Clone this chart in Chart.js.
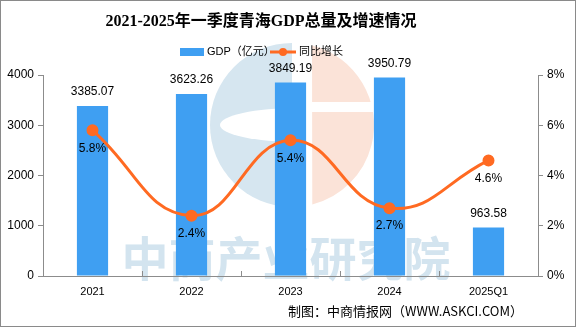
<!DOCTYPE html>
<html lang="zh">
<head>
<meta charset="UTF-8">
<title>2021-2025年一季度青海GDP总量及增速情况</title>
<script src="https://cdn.jsdelivr.net/npm/chart.js"></script>
<style>
  body { margin: 0; background: #fff; }
  .box { width: 576px; height: 327px; box-sizing: border-box; border: 1px solid #8a8a8a; background: #fff; }
  canvas { display: block; }
</style>
</head>
<body>
<div class="box"><canvas id="gdpChart" width="574" height="325"></canvas></div>
<script>
  const years = ['2021', '2022', '2023', '2024', '2025Q1'];
  const gdp = [3385.07, 3623.26, 3849.19, 3950.79, 963.58];
  const growth = [5.8, 2.4, 5.4, 2.7, 4.6];

  const titleText = '2021-2025年一季度青海GDP总量及增速情况';
  const sourceText = '制图：中商情报网（WWW.ASKCI.COM）';
  const watermarkText = '中商产业研究院';

  const BLUE = '#3f9ff2';
  const ORANGE = '#ff6a22';
  const AXIS = '#8c8c8c';
  const SANS = '"Liberation Sans", "Noto Sans CJK SC", sans-serif';
  const CJK = '"Noto Sans CJK SC", sans-serif';

  // 背景水印 + 标题 + 图例 + 数据标签
  const decor = {
    id: 'decor',
    beforeDraw(chart) {
      const ctx = chart.ctx;
      ctx.save();
      // logo
      const cx = 291, cy = 124, r = 82;
      ctx.fillStyle = '#d6e6f0';
      ctx.beginPath();
      ctx.arc(cx, cy, r, Math.PI / 2, Math.PI * 1.5);
      ctx.closePath();
      ctx.fill();
      ctx.fillStyle = '#fff';
      ctx.beginPath();
      ctx.ellipse(cx + 6, cy, 78, 17, 0, 0, Math.PI * 2);
      ctx.fill();
      ctx.fillStyle = '#fbe3d8';
      ctx.beginPath();
      ctx.moveTo(cx + 20, cy - r + 2);
      ctx.arc(cx, cy, r, -Math.PI / 2 + 0.25, Math.PI / 2 - 0.25);
      ctx.closePath();
      ctx.fill();
      ctx.fillStyle = '#fff';
      ctx.fillRect(cx + 18, cy - 23, 70, 10);
      ctx.fillRect(cx, cy - r, 20, 2 * r);
      // 文字水印
      ctx.fillStyle = '#d3e4ef';
      ctx.font = 'bold 47px ' + CJK;
      ctx.textAlign = 'center';
      ctx.textBaseline = 'middle';
      ctx.fillText(watermarkText, 285, 257);
      ctx.restore();
    },
    afterDraw(chart) {
      const ctx = chart.ctx;
      const x = chart.scales.x;
      ctx.save();
      // x 轴分隔刻度（向上）
      ctx.strokeStyle = AXIS;
      ctx.lineWidth = 1;
      for (let i = 0; i < years.length - 1; i++) {
        const px = Math.round((x.getPixelForTick(i) + x.getPixelForTick(i + 1)) / 2) + 0.5;
        ctx.beginPath();
        ctx.moveTo(px, x.top);
        ctx.lineTo(px, x.top - 5);
        ctx.stroke();
      }

      // 标题
      ctx.fillStyle = '#000';
      ctx.textAlign = 'center';
      ctx.textBaseline = 'middle';
      ctx.font = 'bold 16px "Liberation Serif", ' + CJK;
      ctx.fillText(titleText, 260, 21);

      // 图例
      ctx.textAlign = 'left';
      ctx.font = '11px ' + SANS;
      ctx.fillStyle = BLUE;
      ctx.fillRect(179, 47, 24, 8);
      ctx.fillStyle = '#000';
      ctx.fillText('GDP（亿元）', 206, 51);
      ctx.strokeStyle = ORANGE;
      ctx.lineWidth = 3;
      ctx.beginPath();
      ctx.moveTo(269, 51);
      ctx.lineTo(295, 51);
      ctx.stroke();
      ctx.fillStyle = ORANGE;
      ctx.beginPath();
      ctx.arc(282, 51, 4, 0, Math.PI * 2);
      ctx.fill();
      ctx.fillStyle = '#000';
      ctx.fillText('同比增长', 298, 51);

      // 数据标签
      ctx.textAlign = 'center';
      ctx.font = '12px ' + SANS;
      chart.getDatasetMeta(1).data.forEach((bar, i) => {
        ctx.fillText(gdp[i].toFixed(2), bar.x, bar.y - 14);
      });
      chart.getDatasetMeta(0).data.forEach((pt, i) => {
        ctx.fillText(growth[i].toFixed(1) + '%', pt.x, pt.y + 18);
      });

      // 来源
      ctx.textAlign = 'right';
      ctx.font = '13px ' + CJK;
      ctx.fillText(sourceText, 522, 310);
      ctx.restore();
    }
  };

  new Chart(document.getElementById('gdpChart').getContext('2d'), {
    data: {
      labels: years,
      datasets: [
        {
          type: 'line',
          label: '同比增长',
          data: growth,
          yAxisID: 'y1',
          borderColor: ORANGE,
          backgroundColor: ORANGE,
          borderWidth: 3,
          pointRadius: 4.5,
          pointBackgroundColor: ORANGE,
          tension: 0.45,
          order: 0
        },
        {
          type: 'bar',
          label: 'GDP（亿元）',
          data: gdp,
          yAxisID: 'y',
          backgroundColor: BLUE,
          categoryPercentage: 1,
          barPercentage: 0.315,
          order: 1
        }
      ]
    },
    options: {
      responsive: false,
      animation: false,
      layout: { padding: { top: 74, bottom: 0, left: 0, right: 0 } },
      plugins: {
        legend: { display: false },
        title: { display: false },
        tooltip: { enabled: false }
      },
      scales: {
        x: {
          offset: true,
          grid: { display: false, drawTicks: false },
          border: { color: AXIS, width: 1 },
          ticks: { color: '#000', font: { size: 11, family: SANS }, padding: 9 },
          afterFit: s => { s.height = 50; }
        },
        y: {
          position: 'left',
          min: 0, max: 4000,
          ticks: { stepSize: 1000, color: '#000', font: { size: 12, family: SANS }, padding: 4,
                   callback: v => String(v) },
          grid: { drawOnChartArea: false, color: AXIS, tickLength: 5 },
          border: { color: AXIS, width: 1 },
          afterFit: s => { s.width = 42; }
        },
        y1: {
          position: 'right',
          min: 0, max: 8,
          ticks: { stepSize: 2, color: '#000', font: { size: 12, family: SANS }, padding: 4,
                   callback: v => v + '%' },
          grid: { drawOnChartArea: false, color: AXIS, tickLength: 5 },
          border: { color: AXIS, width: 1 },
          afterFit: s => { s.width = 37; }
        }
      }
    },
    plugins: [decor]
  });
</script>
</body>
</html>
